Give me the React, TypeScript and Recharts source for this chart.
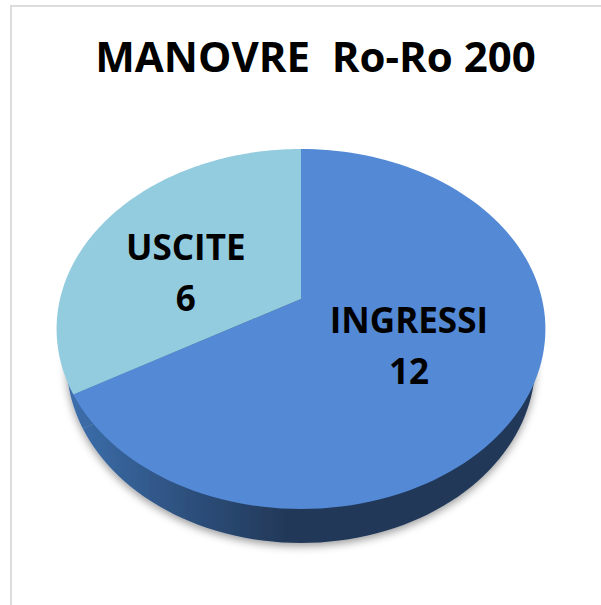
import React from "react"
import { PieChart, Pie, Cell } from "recharts"

const categories = ["INGRESSI", "USCITE"]
const values = [12, 6]
const topColors = ["#5389d5", "#93cbdf"]
const sideColors = ["url(#sideFade)", "url(#sideFade)"]

const data = categories.map((name, i) => ({ name, value: values[i] }))

// the picture is a tilted 3D pie: the flat circle gets a perspective projection
const TILT = 1 / 6
const FONT = "'Open Sans', 'Noto Sans', sans-serif"

const project = (cx: number, cy: number, r: number, depth: number, deg: number, k = 1) => {
  const s = Math.cos((deg * Math.PI) / 180) * k
  const c = Math.sin((deg * Math.PI) / 180) * k
  const d = 1 + TILT * c
  return [cx + (r * s) / d, cy - (r * depth * c) / d]
}

const slicePath = (props: any, depth: number) => {
  const { cx, cy, outerRadius, startAngle, endAngle } = props
  const steps = 120
  let d = `M${cx},${cy}`
  for (let i = 0; i <= steps; i++) {
    const a = startAngle + ((endAngle - startAngle) * i) / steps
    const [x, y] = project(cx, cy, outerRadius, depth, a)
    d += `L${x.toFixed(2)},${y.toFixed(2)}`
  }
  return d + "Z"
}

const TopSlice = (props: any) => <path d={slicePath(props, 175 / 241)} fill={props.fill} stroke="none" />

const SideSlice = (props: any) => <path d={slicePath(props, 175 / 231)} fill={props.fill} stroke="none" />

const SliceLabel = (props: any) => {
  const { cx, cy, outerRadius, midAngle, name, value, index } = props
  // USCITE was dragged by hand in the original, away from its slice middle
  const nudge = index === 1 ? [-15, 16] : [-1, 1]
  const [x, y] = project(cx, cy, outerRadius, 175 / 241, midAngle, 0.5)
  return (
    <text x={x + nudge[0]} textAnchor="middle" fontFamily={FONT} fontWeight="700" fontSize={35} fill="#000">
      <tspan x={x + nudge[0]} y={y + nudge[1] - 13}>{name}</tspan>
      <tspan x={x + nudge[0]} y={y + nudge[1] + 38}>{value}</tspan>
    </text>
  )
}

export default function App() {
  return (
    <div style={{ position: "absolute", left: 0, top: 0, width: 601, height: 605, background: "#fff", overflow: "hidden" }}>
      {/* shadow goes on the whole side layer, otherwise one slice shades the other */}
      <style>{`.side-pie { filter: url(#sideShadow); }`}</style>
      <div style={{ position: "absolute", left: 10, top: 5, width: 591, height: 600, borderLeft: "2px solid #dcdcdc", borderTop: "2px solid #dcdcdc" }} />
      <div style={{ position: "absolute", left: 0, top: 0 }}>
        <PieChart width={601} height={605} margin={{ top: 0, right: 0, bottom: 0, left: 0 }}>
          <defs>
            <linearGradient id="sideFade" gradientUnits="userSpaceOnUse" x1="73" y1="0" x2="285" y2="0">
              <stop offset="0%" stopColor="#3c6eab" />
              <stop offset="50%" stopColor="#2e5280" />
              <stop offset="100%" stopColor="#233959" />
            </linearGradient>
            <filter id="sideShadow" x="-10%" y="-10%" width="120%" height="120%">
              <feDropShadow dx="0" dy="3" stdDeviation="4" floodColor="#000" floodOpacity="0.4" />
            </filter>
          </defs>
          <text x={315.5} y={72} textAnchor="middle" fontFamily={FONT} fontWeight="700" fontSize={42} fill="#000" xmlSpace="preserve">
            MANOVRE  Ro-Ro 200
          </text>
          <Pie
            className="side-pie"
            data={data}
            dataKey="value"
            nameKey="name"
            cx={301}
            cy={333}
            innerRadius={0}
            outerRadius={231}
            startAngle={90}
            endAngle={-270}
            stroke="none"
            shape={SideSlice}
            isAnimationActive={false}
          >
            {data.map((d, i) => <Cell key={d.name} fill={sideColors[i]} />)}
          </Pie>
          <Pie
            data={data}
            dataKey="value"
            nameKey="name"
            cx={301}
            cy={299}
            innerRadius={0}
            outerRadius={241}
            startAngle={90}
            endAngle={-270}
            stroke="none"
            shape={TopSlice}
            label={SliceLabel}
            labelLine={false}
            isAnimationActive={false}
          >
            {data.map((d, i) => <Cell key={d.name} fill={topColors[i]} />)}
          </Pie>
        </PieChart>
      </div>
    </div>
  )
}
